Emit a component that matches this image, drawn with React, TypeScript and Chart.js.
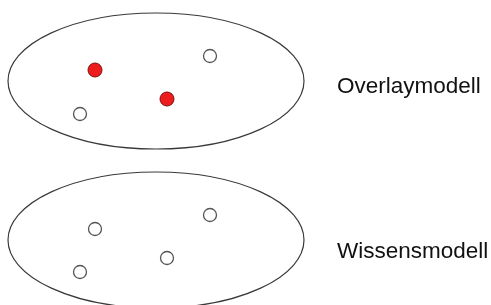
import React, { useEffect, useRef } from "react";
import { Chart, registerables } from "chart.js";

Chart.register(...registerables);

// Diagram coordinate space (x: 0..491, y: 0..305, y downward)
const modelNames = ["Overlaymodell", "Wissensmodell"];
const ellipseCenterX = [156, 156];
const ellipseCenterY = [81, 240];
const ellipseRadiusX = [148, 148];
const ellipseRadiusY = [68, 68];
const labelX = [337, 337];
const labelBaselineY = [93, 258];

const overlayRedX = [95, 167];
const overlayRedY = [70, 99];
const overlayOpenX = [210, 80];
const overlayOpenY = [56, 114];
const knowledgeOpenX = [95, 167, 210, 80];
const knowledgeOpenY = [229, 258, 215, 272];

const toPoints = (xs: number[], ys: number[]) => xs.map((x, i) => ({ x, y: ys[i] }));

const ellipsePlugin = {
  id: "ellipses",
  beforeDatasetsDraw(chart: any) {
    const { ctx, scales } = chart;
    const xs = scales.x;
    const ys = scales.y;
    ctx.save();
    for (let i = 0; i < ellipseCenterX.length; i++) {
      const cx = xs.getPixelForValue(ellipseCenterX[i]);
      const cy = ys.getPixelForValue(ellipseCenterY[i]);
      const rx = Math.abs(xs.getPixelForValue(ellipseCenterX[i] + ellipseRadiusX[i]) - cx);
      const ry = Math.abs(ys.getPixelForValue(ellipseCenterY[i] + ellipseRadiusY[i]) - cy);
      ctx.beginPath();
      ctx.ellipse(cx, cy, rx, ry, 0, 0, Math.PI * 2);
      ctx.strokeStyle = "#3a3a3a";
      ctx.lineWidth = 1.2;
      ctx.stroke();
    }
    ctx.font = "22.5px 'Liberation Sans', Arial, sans-serif";
    ctx.fillStyle = "#111";
    ctx.textBaseline = "alphabetic";
    ctx.textAlign = "left";
    for (let i = 0; i < modelNames.length; i++) {
      ctx.fillText(modelNames[i], xs.getPixelForValue(labelX[i]), ys.getPixelForValue(labelBaselineY[i]));
    }
    ctx.restore();
  },
};

export default function App() {
  const ref = useRef<HTMLCanvasElement>(null);
  useEffect(() => {
    document.body.style.margin = "0";
    const chart = new Chart(ref.current!, {
      type: "scatter",
      data: {
        datasets: [
          {
            label: "Overlay (rot)",
            data: toPoints(overlayRedX, overlayRedY),
            backgroundColor: "#ee1c1c",
            borderColor: "#7a1010",
            borderWidth: 1,
            pointRadius: 7,
          },
          {
            label: "Overlay (leer)",
            data: toPoints(overlayOpenX, overlayOpenY),
            backgroundColor: "#ffffff",
            borderColor: "#555555",
            borderWidth: 1.3,
            pointRadius: 6.5,
          },
          {
            label: "Wissen",
            data: toPoints(knowledgeOpenX, knowledgeOpenY),
            backgroundColor: "#ffffff",
            borderColor: "#555555",
            borderWidth: 1.3,
            pointRadius: 6.5,
          },
        ],
      },
      options: {
        animation: false,
        responsive: false,
        maintainAspectRatio: false,
        layout: { padding: 0, autoPadding: false },
        plugins: { legend: { display: false }, tooltip: { enabled: false } },
        scales: {
          x: { type: "linear", min: 0, max: 491, display: false },
          y: { type: "linear", min: 0, max: 305, reverse: true, display: false },
        },
      },
      plugins: [ellipsePlugin],
    });
    return () => chart.destroy();
  }, []);
  return (
    <div style={{ width: 491, height: 305, background: "#fff" }}>
      <canvas ref={ref} width={491} height={305} style={{ display: "block" }} />
    </div>
  );
}
